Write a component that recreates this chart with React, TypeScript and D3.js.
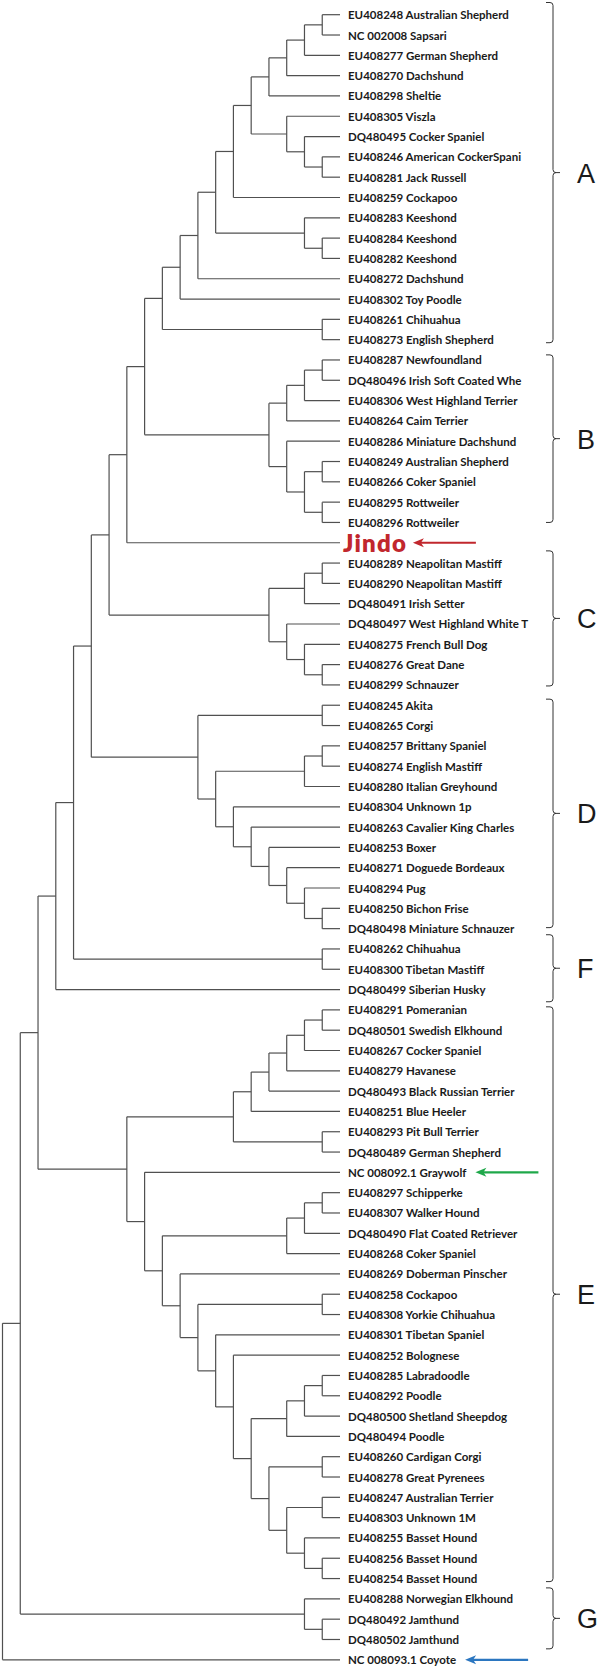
import React, { useMemo } from "react";
import * as d3 from "d3";

// ---------- DATA ----------
const leafLabels: string[] = [
  "EU408248 Australian Shepherd",
  "NC 002008 Sapsari",
  "EU408277 German Shepherd",
  "EU408270 Dachshund",
  "EU408298 Sheltie",
  "EU408305 Viszla",
  "DQ480495 Cocker Spaniel",
  "EU408246 American CockerSpani",
  "EU408281 Jack Russell",
  "EU408259 Cockapoo",
  "EU408283 Keeshond",
  "EU408284 Keeshond",
  "EU408282 Keeshond",
  "EU408272 Dachshund",
  "EU408302 Toy Poodle",
  "EU408261 Chihuahua",
  "EU408273 English Shepherd",
  "EU408287 Newfoundland",
  "DQ480496 Irish Soft Coated Whe",
  "EU408306 West Highland Terrier",
  "EU408264 Caim Terrier",
  "EU408286 Miniature Dachshund",
  "EU408249 Australian Shepherd",
  "EU408266 Coker Spaniel",
  "EU408295 Rottweiler",
  "EU408296 Rottweiler",
  "Jindo",
  "EU408289 Neapolitan Mastiff",
  "EU408290 Neapolitan Mastiff",
  "DQ480491 Irish Setter",
  "DQ480497 West Highland White T",
  "EU408275 French Bull Dog",
  "EU408276 Great Dane",
  "EU408299 Schnauzer",
  "EU408245 Akita",
  "EU408265 Corgi",
  "EU408257 Brittany Spaniel",
  "EU408274 English Mastiff",
  "EU408280 Italian Greyhound",
  "EU408304 Unknown 1p",
  "EU408263 Cavalier King Charles",
  "EU408253 Boxer",
  "EU408271 Doguede Bordeaux",
  "EU408294 Pug",
  "EU408250 Bichon Frise",
  "DQ480498 Miniature Schnauzer",
  "EU408262 Chihuahua",
  "EU408300 Tibetan Mastiff",
  "DQ480499 Siberian Husky",
  "EU408291 Pomeranian",
  "DQ480501 Swedish Elkhound",
  "EU408267 Cocker Spaniel",
  "EU408279 Havanese",
  "DQ480493 Black Russian Terrier",
  "EU408251 Blue Heeler",
  "EU408293 Pit Bull Terrier",
  "DQ480489 German Shepherd",
  "NC 008092.1 Graywolf",
  "EU408297 Schipperke",
  "EU408307 Walker Hound",
  "DQ480490 Flat Coated Retriever",
  "EU408268 Coker Spaniel",
  "EU408269 Doberman Pinscher",
  "EU408258 Cockapoo",
  "EU408308 Yorkie Chihuahua",
  "EU408301 Tibetan Spaniel",
  "EU408252 Bolognese",
  "EU408285 Labradoodle",
  "EU408292 Poodle",
  "DQ480500 Shetland Sheepdog",
  "DQ480494 Poodle",
  "EU408260 Cardigan Corgi",
  "EU408278 Great Pyrenees",
  "EU408247 Australian Terrier",
  "EU408303 Unknown 1M",
  "EU408255 Basset Hound",
  "EU408256 Basset Hound",
  "EU408254 Basset Hound",
  "EU408288 Norwegian Elkhound",
  "DQ480492 Jamthund",
  "DQ480502 Jamthund",
  "NC 008093.1 Coyote",
];

// Tree topology (leaf indices into leafLabels)
const A1 = [[[[0, 1], 2], 3], 4];
const A2 = [5, [6, [7, 8]]];
const cladeA = [[[[[[A1, A2], 9], [10, [11, 12]]], 13], 14], [15, 16]];
const cladeB = [[[[17, 18], 19], 20], [21, [[22, 23], [24, 25]]]];
const cladeC = [[[27, 28], 29], [30, [31, [32, 33]]]];
const cladeD = [[34, 35], [[[36, 37], 38], [39, [40, [41, [42, [43, [44, 45]]]]]]]];
const cladeF = [46, 47];
const E_upper = [[[[[[49, 50], 51], 52], 53], 54], [55, 56]];
const E1 = [[[58, 59], 60], 61];
const E2 = [[[[67, 68], 69], 70], [[71, 72], [[73, 74], [75, [76, 77]]]]];
const E_lower = [57, [E1, [62, [[63, 64], [65, [66, E2]]]]]];
const cladeE = [E_upper, E_lower];
const cladeG = [78, [79, 80]];
const treeRoot = [[[[[[[[[cladeA, cladeB], 26], cladeC], cladeD], cladeF], 48], cladeE], cladeG], 81];

// Group brackets: label, first / last extent in leaf-row units
const groupNames = ["A", "B", "C", "D", "F", "E", "G"];
const groupStart = [-0.6, 16.75, 26.4, 33.7, 45.3, 48.85, 77.46];
const groupEnd = [16.15, 25.0, 33.05, 44.95, 48.6, 77.15, 80.46];

// Highlighted leaves with arrows
const highlightLeaves = [26, 57, 81];
const highlightColors = ["#c1272d", "#1fa84a", "#2b76c0"];

// ---------- COMPONENT ----------
const W = 599;
const H = 1669;
const LABEL_FONT = "700 11.5px Lato";
const JINDO_FONT = "800 24px Lato";
const JINDO_SPACING = 1.2;

function measure(text: string, font: string): number {
  const c = document.createElement("canvas");
  const ctx = c.getContext("2d");
  if (!ctx) return text.length * 6;
  ctx.font = font;
  return ctx.measureText(text).width;
}

export default function App() {
  const { links, verticals, leaves } = useMemo(() => {
    const root = d3.hierarchy<any>(treeRoot, (d) => (Array.isArray(d) ? d : null));
    const x = d3.scaleLinear().domain([root.height, 0]).range([2.5, 340]);
    const y = d3.scaleLinear().domain([0, leafLabels.length - 1]).range([14.7, 1659.8]);
    root.eachAfter((n: any) => {
      n.px = x(n.height);
      if (!n.children) n.py = y(n.data as number);
      else n.py = (n.children[0].py + n.children[n.children.length - 1].py) / 2;
    });
    const links: string[] = [];
    const verticals: string[] = [];
    root.each((n: any) => {
      if (n.children) {
        const c0 = n.children[0];
        const c1 = n.children[n.children.length - 1];
        verticals.push(`M${n.px},${c0.py}V${c1.py}`);
        n.children.forEach((c: any) => {
          links.push(`M${n.px},${c.py}H${c.px}`);
        });
      }
    });
    const leaves = root.leaves().map((l: any) => ({ idx: l.data as number, x: l.px, y: l.py }));
    return { links, verticals, leaves };
  }, []);

  const yRow = d3.scaleLinear().domain([0, leafLabels.length - 1]).range([14.7, 1659.8]);
  const labelX = 348;
  const bx = 553;

  return (
    <div style={{ position: "absolute", left: 0, top: 0, width: W, height: H, background: "#fff" }}>
      <svg width={W} height={H} style={{ display: "block" }}>
        <g fill="none" stroke="#505050" strokeWidth={1.2}>
          {verticals.map((d, i) => (
            <path key={"v" + i} d={d} />
          ))}
          {links.map((d, i) => (
            <path key={"h" + i} d={d} />
          ))}
        </g>
        <g>
          {leaves.map((l) => {
            const isJindo = leafLabels[l.idx] === "Jindo";
            return (
              <text
                key={l.idx}
                x={isJindo ? labelX - 5 : labelX}
                y={l.y}
                dominantBaseline="central"
                fontFamily="Lato, 'Open Sans', sans-serif"
                fontWeight={isJindo ? 800 : 700}
                fontSize={isJindo ? 24 : 11.5}
                letterSpacing={isJindo ? JINDO_SPACING : 0}
                fill={isJindo ? "#c1272d" : "#1a1a1a"}
              >
                {leafLabels[l.idx]}
              </text>
            );
          })}
        </g>
        <g>
          {highlightLeaves.map((li, i) => {
            const isJindo = leafLabels[li] === "Jindo";
            const w = isJindo
              ? measure(leafLabels[li], JINDO_FONT) + JINDO_SPACING * (leafLabels[li].length - 1)
              : measure(leafLabels[li], LABEL_FONT);
            const startX = isJindo ? labelX - 5 : labelX;
            const tip = startX + w + (isJindo ? 7 : 9);
            const tail = tip + 63;
            const yy = yRow(li);
            const col = highlightColors[i];
            return (
              <g key={"a" + li}>
                <line x1={tip + 6} x2={tail} y1={yy} y2={yy} stroke={col} strokeWidth={2.2} />
                <path
                  d={`M${tip},${yy}L${tip + 11},${yy - 4.5}L${tip + 8},${yy}L${tip + 11},${yy + 4.5}Z`}
                  fill={col}
                />
              </g>
            );
          })}
        </g>
        <g>
          {groupNames.map((g, i) => {
            const t = yRow(groupStart[i]);
            const b = yRow(groupEnd[i]);
            const m = (t + b) / 2;
            const d = `M${bx - 7},${t}H${bx - 3}Q${bx},${t} ${bx},${t + 3}V${m - 3}Q${bx},${m} ${bx + 3},${m}H${bx + 7}M${bx + 3},${m}Q${bx},${m} ${bx},${m + 3}V${b - 3}Q${bx},${b} ${bx - 3},${b}H${bx - 7}`;
            return (
              <g key={g}>
                <path d={d} fill="none" stroke="#333" strokeWidth={1} />
                <text
                  x={577}
                  y={m + 1}
                  dominantBaseline="central"
                  fontFamily="'Liberation Sans', Arial, sans-serif"
                  fontSize={27}
                  fill="#1a1a1a"
                >
                  {g}
                </text>
              </g>
            );
          })}
        </g>
      </svg>
    </div>
  );
}
